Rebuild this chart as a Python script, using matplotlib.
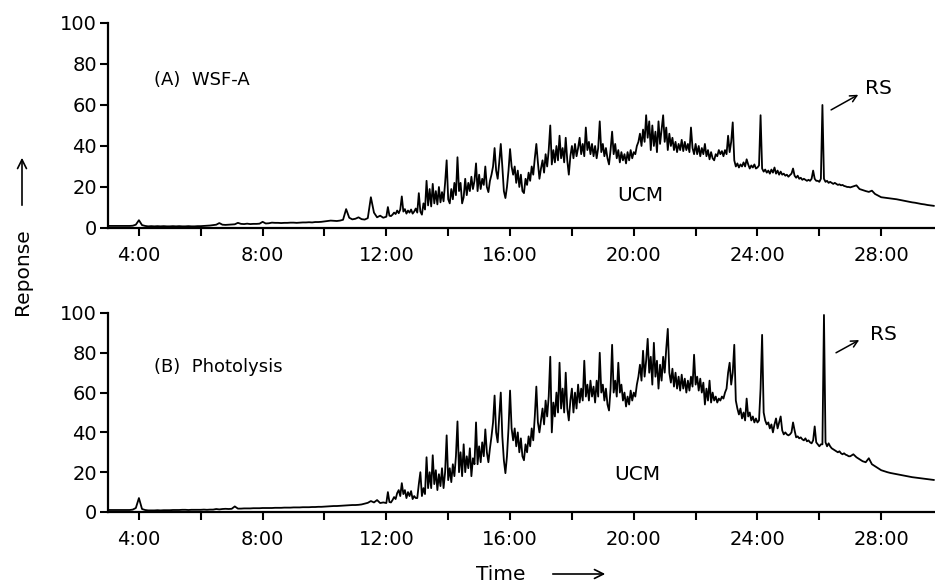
#Chromatograms of the WSF-A sample and the photolysis sample
import matplotlib
matplotlib.use("Agg")
import matplotlib.pyplot as plt
import matplotlib.patches as mpatches
import numpy as np

#the traces are read in three stretches (minutes):
#3:00-11:54 every 0.1 min, 12:00-26:57 every 0.05 min, 27:00-29:42 every 0.1 min
early_start, early_step = 3.0, 0.1
middle_start, middle_step = 12.0, 0.05
late_start, late_step = 27.0, 0.1

#(A) WSF-A, one row per minute
wsf_early = [
    1.0, 1.0, 1.0, 1.0, 1.0, 1.0, 1.0, 1.0, 1.1, 1.6,             # 3
    3.8, 1.4, 1.0, 0.8, 0.9, 0.8, 0.9, 0.8, 0.9, 0.8,             # 4
    0.8, 0.9, 0.8, 0.9, 0.8, 0.8, 0.9, 0.8, 0.8, 0.9,             # 5
    0.9, 1.0, 1.1, 1.2, 1.4, 1.6, 2.4, 1.6, 1.5, 1.6,             # 6
    1.7, 1.8, 2.5, 2.0, 1.9, 2.1, 1.9, 2.0, 2.0, 2.1,             # 7
    3.0, 2.2, 2.3, 2.6, 2.5, 2.5, 2.4, 2.5, 2.5, 2.6,             # 8
    2.6, 2.5, 2.6, 2.7, 2.7, 2.8, 2.7, 2.9, 2.9, 3.0,             # 9
    3.2, 3.4, 3.6, 3.5, 3.4, 3.6, 4.0, 9.2, 5.0, 4.2,             # 10
    4.5, 5.2, 4.3, 4.1, 4.8, 15.0, 7.5, 5.2, 6.0, 5.0,            # 11
]
wsf_middle = [
    5.5, 10.2, 6.0, 5.8, 6.5, 7.5, 6.8, 8.5, 7.2, 9.0,
    15.4, 8.0, 9.2, 7.0, 8.5, 7.5, 9.0, 7.0, 8.0, 9.5,            # 12
    7.5, 17.0, 8.0, 6.5, 12.0, 9.0, 23.0, 11.0, 19.0, 10.5,
    21.5, 12.0, 18.0, 11.5, 20.0, 12.5, 17.5, 13.0, 22.0, 33.0,   # 13
    14.0, 12.0, 19.0, 14.0, 22.0, 16.0, 34.5, 18.0, 22.0, 12.0,
    15.0, 24.0, 16.0, 22.0, 18.0, 25.0, 19.0, 23.0, 31.5, 18.0,   # 14
    26.0, 19.0, 24.0, 21.0, 30.0, 20.0, 17.5, 23.0, 26.0, 30.0,
    39.0, 28.0, 24.0, 32.0, 41.0, 30.0, 18.0, 14.6, 20.0, 28.0,   # 15
    38.5, 30.0, 26.0, 30.0, 22.0, 28.0, 20.0, 26.0, 18.0, 17.0,
    24.0, 21.0, 27.0, 23.0, 30.0, 26.0, 34.0, 41.0, 32.0, 24.0,   # 16
    29.0, 33.0, 27.0, 36.0, 30.0, 38.0, 50.0, 31.0, 38.0, 32.0,
    40.0, 33.0, 45.0, 34.0, 39.0, 32.0, 44.0, 33.0, 26.0, 35.0,   # 17
    40.0, 34.0, 41.0, 35.0, 39.0, 44.0, 36.0, 41.0, 35.0, 49.0,
    38.0, 42.0, 36.0, 41.0, 35.0, 40.0, 34.0, 39.0, 52.0, 37.0,   # 18
    41.0, 35.0, 39.0, 34.0, 31.0, 38.0, 47.0, 36.0, 41.0, 34.0,
    38.0, 32.0, 37.0, 33.0, 36.0, 31.5, 37.0, 33.0, 38.0, 34.0,   # 19
    37.0, 36.0, 40.0, 42.0, 46.0, 40.0, 48.0, 42.0, 55.0, 44.0,
    52.0, 38.0, 50.0, 40.0, 47.0, 37.0, 52.0, 41.0, 48.0, 55.0,   # 20
    42.0, 49.0, 38.0, 46.0, 40.0, 44.0, 38.0, 42.0, 37.0, 41.0,
    38.0, 43.0, 37.5, 42.0, 38.0, 41.0, 37.0, 49.0, 39.0, 36.0,   # 21
    41.0, 36.0, 40.0, 35.0, 39.0, 36.0, 41.0, 35.0, 38.0, 33.5,
    37.0, 34.0, 33.0, 36.0, 35.0, 38.0, 36.0, 37.5, 35.0, 38.0,   # 22
    36.0, 45.0, 37.0, 42.0, 51.5, 33.0, 30.0, 31.5, 29.5, 31.0,
    30.0, 32.0, 30.0, 33.5, 31.0, 29.0, 30.5, 29.5, 31.0, 29.0,   # 23
    29.5, 30.5, 55.0, 29.0, 27.5, 28.5, 27.0, 28.0, 26.5, 28.5,
    27.0, 29.5, 26.5, 28.0, 26.0, 27.5, 26.0, 26.5, 25.5, 26.0,   # 24
    25.0, 25.8, 26.5, 29.0, 25.5, 24.5, 25.5, 24.0, 24.5, 23.5,
    24.0, 23.5, 23.0, 23.5, 23.0, 24.0, 28.0, 24.0, 23.0, 23.0,   # 25
    22.5, 24.0, 60.0, 24.0, 22.5, 23.0, 22.0, 22.5, 22.0, 21.5,
    22.0, 21.5, 21.0, 21.3, 20.8, 21.0, 20.5, 20.3, 20.0, 20.0,   # 26
]
wsf_late = [
    19.8, 20.3, 20.8, 19.0, 18.5, 18.0, 17.6, 18.2, 16.6, 15.8,   # 27
    15.0, 14.8, 14.6, 14.4, 14.2, 14.0, 13.7, 13.4, 13.1, 12.8,   # 28
    12.5, 12.3, 12.0, 11.7, 11.5, 11.2, 11.0, 10.8,               # 29
]

#(B) photolysis, one row per minute
photolysis_early = [
    1.0, 1.0, 1.0, 1.0, 1.0, 1.0, 1.0, 1.0, 1.2, 2.0,             # 3
    7.0, 1.5, 1.0, 0.8, 0.8, 0.8, 0.9, 0.8, 0.9, 0.9,             # 4
    0.9, 1.0, 1.0, 1.0, 1.1, 1.1, 1.0, 1.1, 1.1, 1.1,             # 5
    1.1, 1.2, 1.1, 1.2, 1.2, 1.5, 1.3, 1.5, 1.6, 1.5,             # 6
    1.6, 2.8, 1.7, 1.7, 1.8, 1.8, 1.8, 1.9, 1.9, 1.9,             # 7
    2.0, 2.0, 2.0, 2.0, 2.1, 2.1, 2.1, 2.2, 2.2, 2.2,             # 8
    2.3, 2.3, 2.3, 2.4, 2.4, 2.4, 2.5, 2.5, 2.6, 2.6,             # 9
    2.7, 2.8, 2.9, 3.0, 3.0, 3.1, 3.2, 3.3, 3.4, 3.5,             # 10
    3.5, 3.6, 3.8, 4.2, 4.6, 5.5, 4.8, 6.0, 4.5, 4.8,             # 11
]
photolysis_middle = [
    4.5, 10.0, 5.0, 4.8, 6.0, 7.5, 6.5, 9.5, 11.0, 8.0,
    14.5, 9.0, 11.0, 7.0, 10.0, 8.0, 10.5, 6.5, 8.0, 7.0,         # 12
    7.0, 14.0, 20.0, 8.0, 12.0, 9.0, 27.5, 12.0, 20.0, 12.0,
    28.5, 14.0, 21.0, 11.0, 19.0, 13.0, 22.0, 12.0, 20.0, 38.5,   # 13
    16.0, 22.0, 15.0, 24.0, 18.0, 28.0, 45.5, 20.0, 30.0, 18.0,
    34.0, 20.0, 28.0, 22.0, 32.0, 18.0, 27.0, 24.0, 45.0, 24.0,   # 14
    33.0, 25.0, 35.0, 28.0, 41.5, 30.0, 25.0, 32.0, 38.0, 45.0,
    58.5, 40.0, 35.0, 48.0, 60.0, 38.0, 26.0, 19.5, 28.0, 42.0,   # 15
    61.0, 42.0, 36.0, 42.0, 33.0, 40.0, 30.0, 37.0, 28.0, 26.0,
    34.0, 30.0, 38.0, 33.0, 42.0, 36.0, 48.0, 63.0, 45.0, 40.0,   # 16
    46.0, 52.0, 44.0, 56.0, 48.0, 58.0, 78.0, 40.0, 55.0, 48.0,
    60.0, 50.0, 75.0, 52.0, 62.0, 50.0, 70.0, 52.0, 46.0, 56.0,   # 17
    62.0, 50.0, 60.0, 52.0, 64.0, 55.0, 62.0, 56.0, 76.0, 58.0,
    64.0, 56.0, 66.0, 58.0, 63.0, 55.0, 66.0, 58.0, 80.0, 60.0,   # 18
    64.0, 56.0, 62.0, 54.0, 51.0, 62.0, 84.0, 60.0, 66.0, 58.0,
    75.0, 60.0, 64.0, 56.0, 60.0, 53.0, 58.0, 54.0, 61.0, 56.0,   # 19
    60.0, 58.0, 64.0, 68.0, 74.0, 66.0, 81.0, 68.0, 76.0, 87.0,
    70.0, 78.0, 64.0, 85.0, 68.0, 76.0, 62.0, 74.0, 66.0, 78.0,   # 20
    70.0, 82.0, 92.0, 70.0, 65.0, 72.0, 63.0, 70.0, 62.0, 68.0,
    61.0, 69.0, 62.0, 67.0, 60.0, 66.0, 61.0, 68.0, 63.0, 79.0,   # 21
    64.0, 68.0, 61.0, 67.0, 60.0, 65.0, 54.0, 62.0, 56.0, 66.0,
    55.0, 60.0, 56.0, 58.0, 55.0, 57.0, 56.0, 58.0, 57.0, 60.0,   # 22
    62.0, 70.0, 75.0, 64.0, 70.0, 84.0, 56.0, 52.0, 49.0, 52.0,
    47.0, 50.0, 46.0, 57.0, 48.0, 50.0, 46.0, 48.0, 45.0, 47.0,   # 23
    45.0, 46.0, 62.0, 89.0, 50.0, 46.0, 44.0, 45.0, 42.0, 44.0,
    40.0, 44.0, 47.0, 42.0, 45.0, 48.0, 41.0, 39.0, 40.0, 39.0,   # 24
    38.5, 39.0, 40.0, 45.0, 41.0, 37.5, 38.0, 37.0, 37.5, 36.5,
    36.0, 37.0, 35.5, 36.0, 35.0, 34.5, 36.0, 43.0, 35.0, 34.0,   # 25
    33.0, 34.0, 34.0, 99.0, 35.0, 33.0, 34.5, 33.0, 32.0, 31.5,
    31.0, 30.5, 30.0, 30.5, 29.5, 29.0, 29.5, 28.8, 28.5, 28.0,   # 26
]
photolysis_late = [
    28.0, 29.0, 27.5, 26.5, 25.5, 25.0, 27.0, 24.0, 23.0, 22.0,   # 27
    21.0, 20.5, 20.0, 19.6, 19.3, 19.0, 18.7, 18.4, 18.1, 17.8,   # 28
    17.5, 17.3, 17.1, 16.9, 16.7, 16.5, 16.3, 16.1,               # 29
]

#axis ticks
major_ticks = [4, 8, 12, 16, 20, 24, 28]
major_labels = ["4:00", "8:00", "12:00", "16:00", "20:00", "24:00", "28:00"]
minor_ticks = [6, 10, 14, 18, 22, 26]
y_ticks = [0, 20, 40, 60, 80, 100]

panel_names = ["(A)  WSF-A", "(B)  Photolysis"]


def joining_the_stretches(early, middle, late):
    #puts the three stretches of one trace together with their times
    t_early = early_start + early_step * np.arange(len(early))
    t_middle = middle_start + middle_step * np.arange(len(middle))
    t_late = late_start + late_step * np.arange(len(late))
    times = np.concatenate([t_early, t_middle, t_late])
    values = np.concatenate([early, middle, late])
    return times, values


def setting_up_axis(ax):
    #only the left and bottom lines are kept
    ax.spines["top"].set_visible(False)
    ax.spines["right"].set_visible(False)
    ax.spines["left"].set_linewidth(1.6)
    ax.spines["bottom"].set_linewidth(1.6)
    ax.set_xlim(3.0, 29.74)
    ax.set_ylim(0, 100)
    ax.set_xticks(major_ticks)
    ax.set_xticklabels(major_labels)
    ax.set_xticks(minor_ticks, minor=True)
    ax.set_yticks(y_ticks)
    ax.tick_params(axis="both", which="both", direction="out", length=6, width=1.5,
                   labelsize=14, colors="black")
    ax.tick_params(axis="x", pad=7)
    ax.tick_params(axis="y", pad=2)


def drawing_the_trace(ax, early, middle, late, name, name_y, ucm_xy, rs_text_xy, rs_arrow):
    times, values = joining_the_stretches(early, middle, late)
    ax.plot(times, values, color="black", linewidth=1.3)
    setting_up_axis(ax)

    #the labels inside the plot
    ax.text(4.5, name_y, name, fontsize=13, va="center")
    ax.text(ucm_xy[0], ucm_xy[1], "UCM", fontsize=14.5, ha="center", va="center")
    ax.annotate("", xy=rs_arrow[1], xytext=rs_arrow[0],
                arrowprops=dict(arrowstyle="->", color="black", lw=1.1, mutation_scale=12,
                                shrinkA=0, shrinkB=0))
    ax.text(rs_text_xy[0], rs_text_xy[1], "RS", fontsize=14.5, ha="center", va="center")


fig = plt.figure(figsize=(9.35, 5.85), dpi=100)

#the two panels, placed to match the original page
ax_a = fig.add_axes([0.1155, 0.6103, 0.8845, 0.3504])
ax_b = fig.add_axes([0.1155, 0.1248, 0.8845, 0.3402])

drawing_the_trace(ax_a, wsf_early, wsf_middle, wsf_late, panel_names[0], 72, (20.2, 16),
                  (27.9, 68), ((26.38, 57.6), (27.26, 65)))
drawing_the_trace(ax_b, photolysis_early, photolysis_middle, photolysis_late, panel_names[1], 73,
                  (20.1, 19), (28.06, 89), ((26.54, 80), (27.29, 86.4)))

#axis titles with their arrows, in figure pixels
fig.text(22 / 935, 1 - 272 / 585, "Reponse", rotation=90, fontsize=14.5, ha="center", va="center")
fig.add_artist(mpatches.FancyArrowPatch(
    (22 / 935, 1 - 208 / 585), (22 / 935, 1 - 155 / 585), transform=fig.transFigure,
    arrowstyle="->", mutation_scale=16, lw=1.2, color="black"))
fig.text(501 / 935, 1 - 574 / 585, "Time", fontsize=14.5, ha="center", va="center")
fig.add_artist(mpatches.FancyArrowPatch(
    (550 / 935, 1 - 574 / 585), (608 / 935, 1 - 574 / 585), transform=fig.transFigure,
    arrowstyle="->", mutation_scale=16, lw=1.2, color="black"))

fig.savefig("out.png", dpi=100)
